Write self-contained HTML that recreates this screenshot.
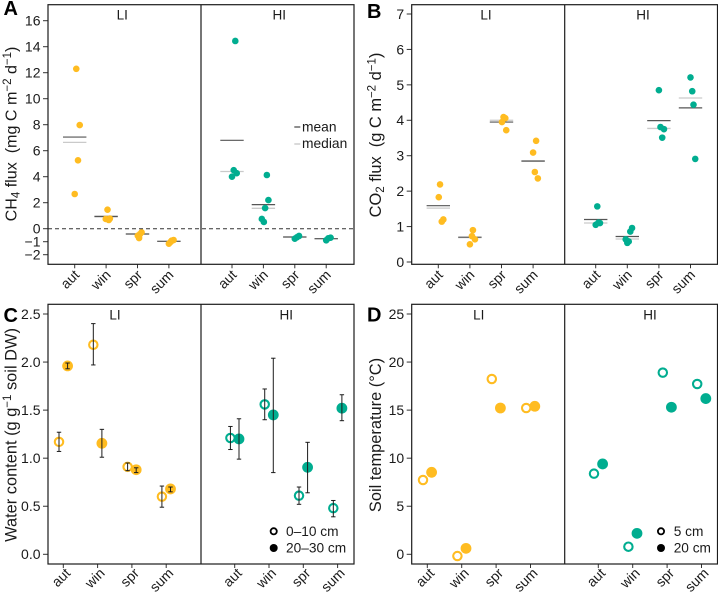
<!DOCTYPE html>
<html lang="en">
<head>
<meta charset="utf-8">
<title>Seasonal greenhouse gas flux and soil conditions</title>
<style>
html,body{margin:0;padding:0;background:#fff;}
svg{display:block;font-family:"Liberation Sans",Arial,sans-serif;fill:#1a1a1a;}
</style>
</head>
<body>
<svg id="fig" width="718" height="592" viewBox="0 0 718 592" xmlns="http://www.w3.org/2000/svg">
<rect x="0" y="0" width="718" height="592" fill="#fff"/>
<g id="plots"></g>

<text x="3.5" y="15" font-size="20" font-weight="bold" fill="#000">A</text>
<text x="367" y="18" font-size="20" font-weight="bold" fill="#000">B</text>
<text x="3.5" y="322" font-size="20" font-weight="bold" fill="#000">C</text>
<text x="367" y="321.5" font-size="20" font-weight="bold" fill="#000">D</text>

<text transform="translate(16.5,134) rotate(-90)" text-anchor="middle" font-size="16.1">CH<tspan dy="3" font-size="11.5">4</tspan><tspan dy="-3"> flux&#160; (mg C m</tspan><tspan dy="-5.5" font-size="11.5">−2</tspan><tspan dy="5.5"> d</tspan><tspan dy="-5.5" font-size="11.5">−1</tspan><tspan dy="5.5">)</tspan></text>
<text transform="translate(381,135) rotate(-90)" text-anchor="middle" font-size="16.4">CO<tspan dy="3" font-size="11.5">2</tspan><tspan dy="-3"> flux&#160; (g C m</tspan><tspan dy="-5.5" font-size="11.5">−2</tspan><tspan dy="5.5"> d</tspan><tspan dy="-5.5" font-size="11.5">−1</tspan><tspan dy="5.5">)</tspan></text>
<text transform="translate(16.5,435) rotate(-90)" text-anchor="middle" font-size="16.4">Water content (g g<tspan dy="-5.5" font-size="11.5">−1</tspan><tspan dy="5.5"> soil DW)</tspan></text>
<text transform="translate(381,435) rotate(-90)" text-anchor="middle" font-size="16.4">Soil temperature (°C)</text>

<text x="122.3" y="19.5" text-anchor="middle" font-size="13.5">LI</text>
<text x="279.3" y="19.5" text-anchor="middle" font-size="13.5">HI</text>
<text x="486" y="19.5" text-anchor="middle" font-size="13.5">LI</text>
<text x="643" y="19.5" text-anchor="middle" font-size="13.5">HI</text>
<text x="115" y="319.5" text-anchor="middle" font-size="13.5">LI</text>
<text x="286.3" y="319.5" text-anchor="middle" font-size="13.5">HI</text>
<text x="478.7" y="319.5" text-anchor="middle" font-size="13.5">LI</text>
<text x="650" y="319.5" text-anchor="middle" font-size="13.5">HI</text>

<g>
<line x1="294.3" x2="300.3" y1="127" y2="127" stroke="#333" stroke-width="1.1"/>
<text x="302" y="131.5" font-size="13.8">mean</text>
<line x1="294.3" x2="300.3" y1="144" y2="144" stroke="#bbb" stroke-width="1.1"/>
<text x="302" y="148" font-size="13.8">median</text>
</g>
<g>
<circle cx="273.7" cy="531.3" r="3.1" fill="#fff" stroke="#000" stroke-width="1.8"/>
<text x="286" y="536" font-size="13.7">0–10 cm</text>
<circle cx="273.7" cy="548" r="4" fill="#000"/>
<text x="286" y="552.5" font-size="13.7">20–30 cm</text>
</g>
<g>
<circle cx="661" cy="531.3" r="3.1" fill="#fff" stroke="#000" stroke-width="1.8"/>
<text x="673.7" y="536" font-size="13.7">5 cm</text>
<circle cx="661" cy="548" r="4" fill="#000"/>
<text x="673.7" y="552.5" font-size="13.7">20 cm</text>
</g>
</svg>

<script>
const seasons = ['aut', 'win', 'spr', 'sum'];

const ch4Ticks = [-2, -1, 0, 2, 4, 6, 8, 10, 12, 14, 16];
const ch4TickLabels = ['−2', '−1', '0', '2', '4', '6', '8', '10', '12', '14', '16'];
const co2Ticks = [0, 1, 2, 3, 4, 5, 6, 7];
const co2TickLabels = ['0', '1', '2', '3', '4', '5', '6', '7'];
const waterTicks = [0, 0.5, 1, 1.5, 2, 2.5];
const waterTickLabels = ['0.0', '0.5', '1.0', '1.5', '2.0', '2.5'];
const tempTicks = [0, 5, 10, 15, 20, 25];
const tempTickLabels = ['0', '5', '10', '15', '20', '25'];

const ch4LiValues = [[12.3, 7.97, 5.26, 2.67], [1.46, 0.75, 0.78, 0.67], [-0.28, -0.41, -0.54, -0.72], [-0.87, -0.92, -1.02, -1.15]];
const ch4LiJitter = [[0.05, 0.16, 0.105, 0], [0.045, -0.01, 0.12, 0.085], [0.13, 0.08, 0.01, 0.05], [0.15, 0.085, 0.055, 0]];
const ch4LiMean = [7.05, 0.95, -0.41, -0.97];
const ch4LiMedian = [6.64, 0.9, -0.41, -0.97];
const ch4HiValues = [[14.44, 4.5, 4.27, 4.0], [4.13, 2.2, 1.59, 0.75, 0.52], [-0.56, -0.66, -0.77], [-0.69, -0.74, -0.89]];
const ch4HiJitter = [[0.105, 0.055, 0.15, 0], [0.11, 0.16, 0.055, -0.05, 0.015], [0.135, 0.065, 0], [0.14, 0.065, 0]];
const ch4HiMean = [6.8, 1.85, -0.64, -0.77];
const ch4HiMedian = [4.4, 1.57, -0.64, -0.77];

const co2LiValues = [[2.19, 1.83, 1.2, 1.14], [0.9, 0.73, 0.64, 0.5], [4.09, 4.06, 3.95, 3.72], [3.42, 3.09, 2.54, 2.36]];
const co2LiJitter = [[0.055, 0.015, 0.16, 0.11], [0.095, 0.065, 0.16, 0], [0.065, 0.12, 0.015, 0.15], [0.095, 0, 0.055, 0.15]];
const co2LiMean = [1.59, 0.7, 3.95, 2.85];
const co2LiMedian = [1.52, 0.69, 4.0, 2.84];
const co2HiValues = [[1.57, 1.1, 1.11, 1.05], [0.96, 0.86, 0.64, 0.58, 0.54], [4.85, 3.81, 3.75, 3.51], [5.21, 4.82, 4.44, 2.91]];
const co2HiJitter = [[0.05, 0.135, 0.085, 0], [0.15, 0.095, -0.05, 0.045, 0], [0, 0.05, 0.16, 0.105], [0, 0.055, 0.095, 0.15]];
const co2HiMean = [1.2, 0.72, 3.99, 4.35];
const co2HiMedian = [1.1, 0.65, 3.77, 4.63];

const waterLiShallow = [1.17, 2.18, 0.91, 0.60];
const waterLiShallowUpper = [1.27, 2.40, 0.95, 0.71];
const waterLiShallowLower = [1.07, 1.97, 0.87, 0.49];
const waterLiDeep = [1.96, 1.155, 0.88, 0.68];
const waterLiDeepUpper = [1.99, 1.30, 0.90, 0.70];
const waterLiDeepLower = [1.93, 1.01, 0.85, 0.65];
const waterHiShallow = [1.21, 1.56, 0.61, 0.48];
const waterHiShallowUpper = [1.33, 1.72, 0.70, 0.56];
const waterHiShallowLower = [1.09, 1.40, 0.52, 0.39];
const waterHiDeep = [1.20, 1.45, 0.905, 1.52];
const waterHiDeepUpper = [1.41, 2.04, 1.165, 1.66];
const waterHiDeepLower = [0.99, 0.85, 0.64, 1.39];

const tempLiShallow = [7.73, -0.18, 18.24, 15.22];
const tempLiDeep = [8.53, 0.62, 15.22, 15.4];
const tempHiShallow = [8.39, 0.79, 18.9, 17.72];
const tempHiDeep = [9.4, 2.18, 15.3, 16.2];

const YELLOW = '#FFBC21';
const GREEN = '#00AD90';
const NS = 'http://www.w3.org/2000/svg';
const plots = document.getElementById('plots');

function mk(parent, tag, name, attrs) {
  const el = document.createElementNS(NS, tag);
  
  
  for (const k in attrs) el.setAttribute(k, attrs[k]);
  parent.appendChild(el);
  return el;
}

function linearY(zeroPx, topValuePx, topValue) {
  const k = (zeroPx - topValuePx) / topValue;
  return v => zeroPx - v * k;
}
function bandX(start, step) {
  return i => start + step * i;
}

function drawFrame(g, left, mid, right, top, bottom) {
  mk(g, 'rect', 'panel-frame', {x: left, y: top, width: right - left, height: bottom - top, fill: 'none', stroke: '#1c1c1c', 'stroke-width': 1.2});
  mk(g, 'line', 'facet-divider', {x1: mid, x2: mid, y1: top, y2: bottom, stroke: '#1c1c1c', 'stroke-width': 1.2});
}

function drawYAxis(g, left, ticks, labels, y) {
  ticks.forEach((t, i) => {
    mk(g, 'line', 'y-tick', {x1: left - 5, x2: left, y1: y(t), y2: y(t), stroke: '#333', 'stroke-width': 1});
    const label = mk(g, 'text', 'y-tick-label', {x: left - 7.5, y: y(t) + 4.9, 'text-anchor': 'end', 'font-size': 14});
    label.textContent = labels[i];
  });
}

function drawXAxis(g, x, bottom, dx, dy) {
  seasons.forEach((s, i) => {
    const px = x(i);
    mk(g, 'line', 'x-tick', {x1: px, x2: px, y1: bottom, y2: bottom + 4, stroke: '#333', 'stroke-width': 1});
    const label = mk(g, 'text', 'x-tick-label', {transform: 'translate(' + (px + dx) + ',' + (bottom + dy) + ') rotate(-45)', 'text-anchor': 'end', 'font-size': 14});
    label.textContent = s;
  });
}

function drawStrip(g, x, y, step, values, jitter, means, medians, color, label) {
  seasons.forEach((s, i) => {
    const cx = x(i);
    mk(g, 'line', label + '-median-' + s, {x1: cx - 11.7, x2: cx + 11.7, y1: y(medians[i]), y2: y(medians[i]), stroke: '#cacaca', 'stroke-width': 1.3});
    mk(g, 'line', label + '-mean-' + s, {x1: cx - 11.7, x2: cx + 11.7, y1: y(means[i]), y2: y(means[i]), stroke: '#555', 'stroke-width': 1.2});
    values[i].forEach((v, j) => {
      mk(g, 'circle', label + '-point-' + s, {cx: cx + jitter[i][j] * step, cy: y(v), r: 3.3, fill: color});
    });
  });
}

function drawDepth(g, x, y, step, shallow, deep, color, label, errs) {
  const off = 0.125 * step;
  seasons.forEach((s, i) => {
    const ox = x(i) - off;
    const fx = x(i) + off;
    mk(g, 'circle', label + '-shallow-' + s, {cx: ox, cy: y(shallow[i]), r: 4.2, fill: '#fff', stroke: color, 'stroke-width': 2.1});
    mk(g, 'circle', label + '-deep-' + s, {cx: fx, cy: y(deep[i]), r: 5.4, fill: color});
    if (errs) {
      drawErr(g, ox, y(errs.shallowUpper[i]), y(errs.shallowLower[i]), label + '-shallow-error-' + s);
      drawErr(g, fx, y(errs.deepUpper[i]), y(errs.deepLower[i]), label + '-deep-error-' + s);
    }
  });
}

function drawErr(g, cx, yTop, yBottom, name) {
  mk(g, 'line', name, {x1: cx, x2: cx, y1: yTop, y2: yBottom, stroke: '#1c1c1c', 'stroke-width': 1});
  mk(g, 'line', name + '-cap-top', {x1: cx - 2.2, x2: cx + 2.2, y1: yTop, y2: yTop, stroke: '#1c1c1c', 'stroke-width': 1});
  mk(g, 'line', name + '-cap-bottom', {x1: cx - 2.2, x2: cx + 2.2, y1: yBottom, y2: yBottom, stroke: '#1c1c1c', 'stroke-width': 1});
}

/* Panel A */
const gA = mk(plots, 'g', 'panel-a-ch4-flux', {});
const yA = linearY(228.7, 20.7, 16);
const xA1 = bandX(74.7, 31.4);
const xA2 = bandX(232, 31.4);
drawYAxis(gA, 48, ch4Ticks, ch4TickLabels, yA);
drawXAxis(gA, xA1, 264.3, 5.5, 11.5);
drawXAxis(gA, xA2, 264.3, 5.5, 11.5);
drawStrip(gA, xA1, yA, 31.4, ch4LiValues, ch4LiJitter, ch4LiMean, ch4LiMedian, YELLOW, 'ch4-li');
drawStrip(gA, xA2, yA, 31.4, ch4HiValues, ch4HiJitter, ch4HiMean, ch4HiMedian, GREEN, 'ch4-hi');
mk(gA, 'line', 'zero-reference-line', {x1: 48, x2: 354, y1: yA(0), y2: yA(0), stroke: '#333', 'stroke-width': 1, 'stroke-dasharray': '4 3'});
drawFrame(gA, 48, 201, 354, 4.7, 264.3);

/* Panel B */
const gB = mk(plots, 'g', 'panel-b-co2-flux', {});
const yB = linearY(262, 14, 7);
const xB1 = bandX(438.3, 31.6);
const xB2 = bandX(595.7, 31.6);
drawYAxis(gB, 411.7, co2Ticks, co2TickLabels, yB);
drawXAxis(gB, xB1, 264.3, 5.5, 11.5);
drawXAxis(gB, xB2, 264.3, 5.5, 11.5);
drawStrip(gB, xB1, yB, 31.6, co2LiValues, co2LiJitter, co2LiMean, co2LiMedian, YELLOW, 'co2-li');
drawStrip(gB, xB2, yB, 31.6, co2HiValues, co2HiJitter, co2HiMean, co2HiMedian, GREEN, 'co2-hi');
drawFrame(gB, 411.7, 564.7, 717.5, 4.7, 264.3);

/* Panel C */
const gC = mk(plots, 'g', 'panel-c-water-content', {});
const yC = linearY(554.3, 314, 2.5);
const xC1 = bandX(63.3, 34.3);
const xC2 = bandX(234.7, 34.3);
drawYAxis(gC, 48, waterTicks, waterTickLabels, yC);
drawXAxis(gC, xC1, 564, 8, 10);
drawXAxis(gC, xC2, 564, 8, 10);
drawDepth(gC, xC1, yC, 34.3, waterLiShallow, waterLiDeep, YELLOW, 'water-li', {
  shallowUpper: waterLiShallowUpper, shallowLower: waterLiShallowLower,
  deepUpper: waterLiDeepUpper, deepLower: waterLiDeepLower
});
drawDepth(gC, xC2, yC, 34.3, waterHiShallow, waterHiDeep, GREEN, 'water-hi', {
  shallowUpper: waterHiShallowUpper, shallowLower: waterHiShallowLower,
  deepUpper: waterHiDeepUpper, deepLower: waterHiDeepLower
});
drawFrame(gC, 48, 201, 354, 304.3, 564);

/* Panel D */
const gD = mk(plots, 'g', 'panel-d-soil-temperature', {});
const yD = linearY(554.3, 314, 25);
const xD1 = bandX(427.3, 34.4);
const xD2 = bandX(598.3, 34.4);
drawYAxis(gD, 411.7, tempTicks, tempTickLabels, yD);
drawXAxis(gD, xD1, 564, 8, 10);
drawXAxis(gD, xD2, 564, 8, 10);
drawDepth(gD, xD1, yD, 34.4, tempLiShallow, tempLiDeep, YELLOW, 'temp-li', null);
drawDepth(gD, xD2, yD, 34.4, tempHiShallow, tempHiDeep, GREEN, 'temp-hi', null);
drawFrame(gD, 411.7, 564.7, 717.5, 304.3, 564);
</script>
</body>
</html>
